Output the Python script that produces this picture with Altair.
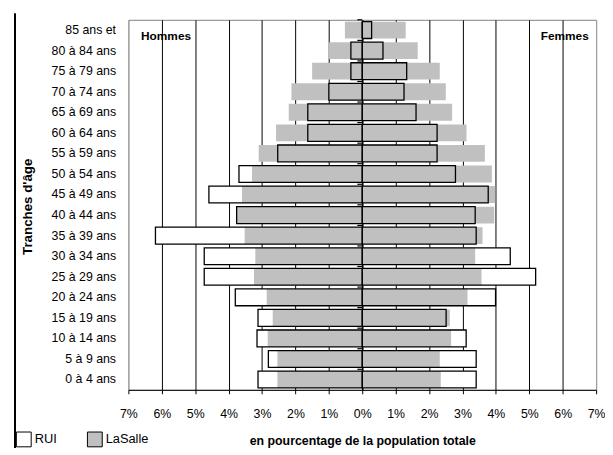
import altair as alt
import pandas as pd

ages = ["85 ans et", "80 à 84 ans", "75 à 79 ans", "70 à 74 ans", "65 à 69 ans",
        "60 à 64 ans", "55 à 59 ans", "50 à 54 ans", "45 à 49 ans", "40 à 44 ans",
        "35 à 39 ans", "30 à 34 ans", "25 à 29 ans", "20 à 24 ans", "15 à 19 ans",
        "10 à 14 ans", "5 à 9 ans", "0 à 4 ans"]

rui_hommes = [0.0, 0.34, 0.34, 1.0, 1.63, 1.63, 2.53, 3.69, 4.59, 3.76,
              6.19, 4.73, 4.73, 3.8, 3.12, 3.15, 2.81, 3.12]
rui_femmes = [0.28, 0.62, 1.33, 1.25, 1.61, 2.24, 2.24, 2.79, 3.77, 3.38,
              3.41, 4.43, 5.19, 3.99, 2.51, 3.11, 3.41, 3.41]
lasalle_hommes = [0.52, 1.01, 1.5, 2.12, 2.2, 2.58, 3.1, 3.3, 3.6, 3.76,
                  3.52, 3.2, 3.24, 2.86, 2.68, 2.83, 2.54, 2.54]
lasalle_femmes = [1.3, 1.66, 2.32, 2.5, 2.69, 3.12, 3.67, 3.88, 3.98, 3.95,
                  3.6, 3.38, 3.57, 3.15, 2.62, 2.66, 2.32, 2.35]

series = ["RUI", "LaSalle"]
x_ticks = [-7, -6, -5, -4, -3, -2, -1, 0, 1, 2, 3, 4, 5, 6, 7]
sex_labels = ["Hommes", "Femmes"]
sex_label_x = [-6.62, 6.78]

rows = []
for name, h, f in [("RUI", rui_hommes, rui_femmes), ("LaSalle", lasalle_hommes, lasalle_femmes)]:
    for a, vh, vf in zip(ages, h, f):
        rows.append({"age": a, "sexe": "Hommes", "serie": name, "val": -vh})
        rows.append({"age": a, "sexe": "Femmes", "serie": name, "val": vf})
df = pd.DataFrame(rows)
ann = pd.DataFrame({"txt": sex_labels, "x": sex_label_x})
agedf = pd.DataFrame({"age": ages, "zero": [0] * len(ages)})

FONT = "Liberation Sans, Arial, sans-serif"

yenc = alt.Y("age:N", sort=ages,
             scale=alt.Scale(paddingInner=0.18, paddingOuter=0.09),
             axis=alt.Axis(title="Tranches d'âge", domain=False, ticks=False,
                           labelPadding=13, labelFontSize=12.5, labelFont=FONT,
                           labelColor="black", titleFont=FONT, titleFontSize=13.5,
                           titleFontWeight="bold", titleColor="black",
                           titleX=-102, titleY=189, titleAngle=270,
                           titleAlign="center", titleBaseline="middle"))

xscale = alt.Scale(domain=[-7, 7], nice=False)
xaxis = alt.Axis(values=x_ticks, tickCount=30, labelExpr="abs(datum.value) + '%'",
                 title="en pourcentage de la population totale",
                 grid=True, labelOverlap=False, labelFlush=False,
                 gridColor={"condition": {"test": "abs(datum.value) >= 7", "value": "#a0a0a0"}, "value": "black"},
                 gridWidth={"condition": {"test": "datum.value == 0", "value": 1.6}, "value": 1},
                 gridOpacity=1,
                 domainColor="black", tickColor="black", tickSize=4,
                 labelPadding=14, labelFontSize=12.5, labelFont=FONT, labelColor="black",
                 titleFont=FONT, titleFontSize=12.5, titleFontWeight="bold", titleColor="black",
                 titleY=51, titleBaseline="middle")

base = alt.Chart(df)

fill_layer = base.mark_bar(strokeWidth=0).encode(
    x=alt.X("val:Q", stack=None, scale=xscale, axis=xaxis),
    y=yenc,
    fill=alt.Fill("serie:N", scale=alt.Scale(domain=series, range=["white", "#c0c0c0"]),
                  legend=alt.Legend(orient="none", legendX=-114, legendY=417,
                                    direction="horizontal", title=None,
                                    symbolType="square", symbolSize=225,
                                    symbolStrokeColor="black", symbolStrokeWidth=1,
                                    labelFont=FONT, labelFontSize=13, labelColor="black",
                                    labelOffset=3, columnPadding=28)),
)

outline_layer = base.transform_filter(alt.datum.serie == "RUI").mark_bar(
    fillOpacity=0, stroke="black", strokeWidth=1.3
).encode(
    x=alt.X("val:Q", stack=None, scale=xscale),
    y=alt.Y("age:N", sort=ages),
)

tick_layer = alt.Chart(agedf).mark_point(
    shape="M-1,0L0,0", size=100, stroke="black", strokeWidth=1.2, filled=False,
    opacity=1, yOffset=-10.4
).encode(
    x=alt.X("zero:Q", scale=xscale),
    y=alt.Y("age:N", sort=ages),
)

text_left = alt.Chart(ann).transform_filter(alt.datum.txt == "Hommes").mark_text(
    font=FONT, fontSize=12, fontWeight="bold", color="black", baseline="middle", align="left"
).encode(x=alt.X("x:Q", scale=xscale), y=alt.value(16), text="txt:N")

text_right = alt.Chart(ann).transform_filter(alt.datum.txt == "Femmes").mark_text(
    font=FONT, fontSize=12, fontWeight="bold", color="black", baseline="middle", align="right"
).encode(x=alt.X("x:Q", scale=xscale), y=alt.value(16), text="txt:N")

left_line = alt.Chart(agedf).mark_rule(color="black", strokeWidth=1).encode(
    x=alt.value(-115), y=alt.value(-6), y2=alt.value(440)
)

chart = alt.layer(fill_layer, outline_layer, tick_layer, text_left, text_right, left_line).properties(
    width=474, height=375,
    autosize=alt.AutoSizeParams(type="none"),
    padding={"left": 122, "top": 9, "right": 9, "bottom": 56},
    background="white",
).configure_view(stroke="#808080", strokeWidth=1)

chart.save("out.html", embed_options={"renderer": "svg", "actions": False})
